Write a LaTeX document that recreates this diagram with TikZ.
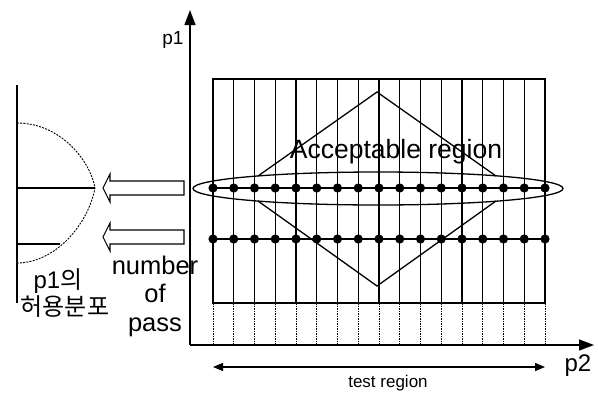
\documentclass[tikz,border=0pt]{standalone}
\usepackage{fontspec}
\setmainfont{Liberation Sans}
\newfontfamily\krfont{Noto Sans CJK KR}
\usetikzlibrary{arrows.meta}

\tikzset{
  axistip/.style={-{Triangle[length=15pt,width=11pt]}},
  dotline/.style={line width=0.9pt,dash pattern=on 1.5pt off 1pt},
  hollow/.style={line width=1.1pt,fill=white},
  dist/.style={line width=0.9pt,dash pattern=on 2pt off 1.2pt}
}

\begin{document}
\begin{tikzpicture}[x=1pt,y=-1pt,line width=1.3pt]
\useasboundingbox (0,0) rectangle (598,392);

\coordinate (origin) at (190,345);
\coordinate (p1tip) at (190,10);
\coordinate (p2tip) at (594,345);
\draw[axistip] (origin) -- (p1tip);
\draw[axistip] (origin) -- (p2tip);
\node[font=\fontsize{19}{19}\selectfont] (p1) at (173,40) {p1};
\node[font=\fontsize{24}{24}\selectfont] (p2) at (578,366) {p2};

\draw (213,79) rectangle (545,303);
\foreach \i in {0,...,16} {
  \draw ({213+20.75*\i},79) -- ({213+20.75*\i},303);
  \draw[dotline] ({213+20.75*\i},303) -- ({213+20.75*\i},345);
}

\draw (258,176) -- (377,92) -- (496,176);
\draw (258,201) -- (377,286) -- (496,201);
\draw (378,188.5) ellipse [x radius=185, y radius=16.5];
\node[font=\fontsize{26.5}{26.5}\selectfont] (accept) at (396,152) {Acceptable region};

\draw (213,188) -- (545,188);
\draw (213,239) -- (545,239);
\foreach \i in {0,...,16} {
  \fill ({213+20.75*\i},188) circle (4.6pt);
  \fill ({213+20.75*\i},239) circle (4.6pt);
}

\draw[hollow] (184,181) -- (110,181) -- (110,174) -- (103,188) -- (110,202) -- (110,195) -- (184,195) -- cycle;
\draw[hollow] (184,230) -- (110,230) -- (110,223) -- (103,237) -- (110,251) -- (110,244) -- (184,244) -- cycle;

\draw (17,85) -- (17,303);
\draw[dist] (17,123) .. controls (60,123) and (90,160) .. (95,188)
  .. controls (88,225) and (55,263) .. (17,263);
\draw (17,188) -- (95,188);
\draw (17,244) -- (60,244);

\node[font=\fontsize{25.5}{28.5}\selectfont,align=center] (pass) at (155,296) {number\\of\\pass};
\node[font=\fontsize{24}{24}\selectfont] (kr1) at (58,281) {p1\krfont 의};
\node[font=\fontsize{24}{24}\selectfont] (kr2) at (65,307) {\krfont 허용분포};

\coordinate (testl) at (213,367);
\coordinate (testr) at (545,367);
\draw[{Triangle[length=10pt,width=8pt]}-{Triangle[length=10pt,width=8pt]}] (testl) -- (testr);
\node[font=\fontsize{17}{17}\selectfont] (test) at (388,383) {test region};
\end{tikzpicture}
\end{document}
